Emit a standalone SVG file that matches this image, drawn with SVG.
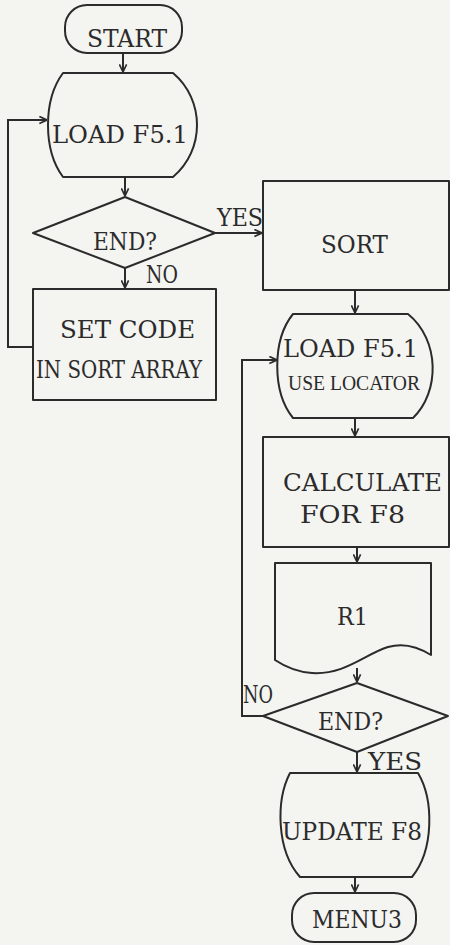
<svg xmlns="http://www.w3.org/2000/svg" width="450" height="945" viewBox="0 0 450 945">
<defs>
<style>
.b{fill:#f4f4f1;stroke:#2b2b2b;stroke-width:2;stroke-linejoin:round}
.c{fill:none;stroke:#2b2b2b;stroke-width:2}
text{font-family:"DejaVu Serif","Liberation Serif",serif;font-size:24px;fill:#2b2b2b}
</style>
<marker id="ah" viewBox="0 0 10 10" refX="9.5" refY="5" markerWidth="9" markerHeight="9" markerUnits="userSpaceOnUse" orient="auto">
<path d="M1,1 L9.5,5 L1,9" fill="none" stroke="#2b2b2b" stroke-width="1.8"/>
</marker>
</defs>
<rect x="0" y="0" width="450" height="945" fill="#f4f4f1"/>

<g id="connectors">
<path class="c" d="M123,53 V72" marker-end="url(#ah)"/>
<path class="c" d="M125,177 V196" marker-end="url(#ah)"/>
<path class="c" d="M125,268 V288" marker-end="url(#ah)"/>
<path class="c" d="M33,347 H8 V120 H47" marker-end="url(#ah)"/>
<path class="c" d="M215,233 H262" marker-end="url(#ah)"/>
<path class="c" d="M355,290 V313" marker-end="url(#ah)"/>
<path class="c" d="M355,418 V436" marker-end="url(#ah)"/>
<path class="c" d="M357,547 V562" marker-end="url(#ah)"/>
<path class="c" d="M357,668 V682" marker-end="url(#ah)"/>
<path class="c" d="M263,716 H242 V360 H277" marker-end="url(#ah)"/>
<path class="c" d="M357,752 V772" marker-end="url(#ah)"/>
<path class="c" d="M355,877 V892" marker-end="url(#ah)"/>
<text x="217" y="226" textLength="46" lengthAdjust="spacingAndGlyphs">YES</text>
<text x="146" y="283" textLength="32" lengthAdjust="spacingAndGlyphs">NO</text>
<text x="243" y="703" textLength="30" lengthAdjust="spacingAndGlyphs">NO</text>
<text x="368" y="770" textLength="54" lengthAdjust="spacingAndGlyphs">YES</text>
</g>

<g id="start">
<rect class="b" x="65" y="5" width="117" height="48" rx="22" ry="22"/>
<text x="87" y="47" textLength="80" lengthAdjust="spacingAndGlyphs">START</text>
</g>

<g id="load1">
<path class="b" d="M63,73 H173 C205,100 205,150 173,177 H63 C43,150 43,100 63,73 Z"/>
<text x="52" y="143" textLength="136" lengthAdjust="spacingAndGlyphs">LOAD F5.1</text>
</g>

<g id="end1">
<path class="b" d="M125,197 L215,233 L125,268 L33,233 Z"/>
<text x="93" y="250" textLength="64" lengthAdjust="spacingAndGlyphs">END?</text>
</g>

<g id="setcode">
<rect class="b" x="33" y="289" width="183" height="111"/>
<text x="60" y="338" textLength="135" lengthAdjust="spacingAndGlyphs">SET CODE</text>
<text x="36" y="378" textLength="166" lengthAdjust="spacingAndGlyphs">IN SORT ARRAY</text>
</g>

<g id="sort">
<rect class="b" x="263" y="181" width="186" height="109"/>
<text x="321" y="253" textLength="67" lengthAdjust="spacingAndGlyphs">SORT</text>
</g>

<g id="load2">
<path class="b" d="M293,314 H408 C440,340 440,392 413,418 H293 C272,392 272,340 293,314 Z"/>
<text x="283" y="357" textLength="135" lengthAdjust="spacingAndGlyphs">LOAD F5.1</text>
<text x="288" y="390" textLength="132" lengthAdjust="spacingAndGlyphs" style="font-family:'Liberation Serif',serif;font-size:21px">USE LOCATOR</text>
</g>

<g id="calculate">
<rect class="b" x="263" y="437" width="186" height="110"/>
<text x="283" y="491" textLength="159" lengthAdjust="spacingAndGlyphs">CALCULATE</text>
<text x="300" y="523" textLength="105" lengthAdjust="spacingAndGlyphs">FOR F8</text>
</g>

<g id="r1">
<path class="b" d="M275,563 H431 V655 C420,648 405,642 388,647 C365,654 345,675 312,673 C296,672 284,666 275,660 Z"/>
<text x="337" y="625" textLength="31" lengthAdjust="spacingAndGlyphs">R1</text>
</g>

<g id="end2">
<path class="b" d="M357,683 L448,716 L357,752 L263,716 Z"/>
<text x="318" y="730" textLength="65" lengthAdjust="spacingAndGlyphs">END?</text>
</g>

<g id="update">
<path class="b" d="M290,773 H418 C434,800 434,850 412,877 H300 C276,850 276,800 290,773 Z"/>
<text x="282" y="840" textLength="140" lengthAdjust="spacingAndGlyphs">UPDATE F8</text>
</g>

<g id="menu3">
<rect class="b" x="292" y="893" width="124" height="49" rx="22" ry="22"/>
<text x="312" y="928" textLength="90" lengthAdjust="spacingAndGlyphs">MENU3</text>
</g>
</svg>
